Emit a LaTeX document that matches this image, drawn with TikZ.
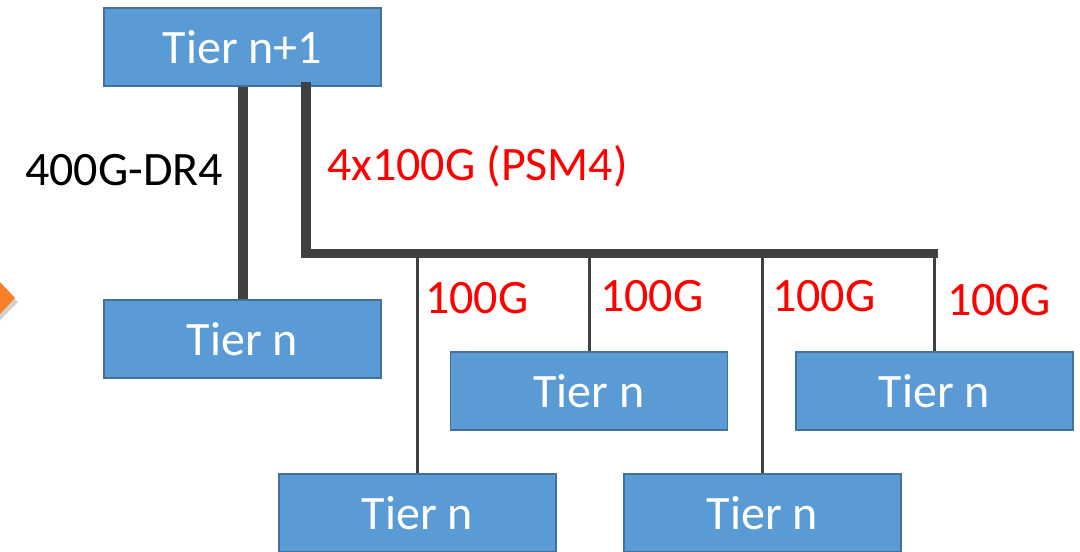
\documentclass[tikz,border=0pt]{standalone}
\usepackage{fontspec}
\setmainfont{Carlito}
\definecolor{boxfill}{HTML}{5B9BD5}
\definecolor{boxline}{HTML}{41719C}
\definecolor{wire}{HTML}{404040}
\definecolor{arrorange}{RGB}{247,128,40}
\begin{document}
\begin{tikzpicture}[x=1pt,y=-1pt,
  tier/.style={draw=boxline,line width=1.5pt,fill=boxfill,text=white,
    minimum width=277pt,minimum height=78pt,inner sep=0pt,
    font=\fontsize{48}{48}\selectfont},
  lbl/.style={anchor=base west,inner sep=0pt,font=\fontsize{48}{48}\selectfont},
  red/.style={text={rgb,255:red,255;green,0;blue,0}},
  trunk/.style={draw=wire,line width=10pt},
  bus/.style={draw=wire,line width=9pt},
  drop/.style={draw=wire,line width=3pt}]
\useasboundingbox (0,0) rectangle (1080,552);
% orange arrow tip at left edge
\fill[black,opacity=0.18] (0,286) -- (18,302) -- (0,320) -- cycle;
\fill[arrorange] (0,282) -- (15,298) -- (0,314) -- cycle;
% boxes
\node[tier] (top) at (242.5,47) {Tier n+1};
\node[tier] (L) at (242.5,339) {Tier n};
\node[tier] (M1) at (589,391) {Tier n};
\node[tier] (R1) at (934.5,391) {Tier n};
\node[tier] (B1) at (417.5,513) {Tier n};
\node[tier] (B2) at (762.5,513) {Tier n};
% bus coordinates
\coordinate (busL) at (306,253);
\coordinate (busR) at (933,253);
% thick trunks
\draw[trunk] (top.south) -- (L.north);
\draw[trunk,line cap=rect] (top.south -| busL) -- (busL);
\draw[bus,line cap=rect] (busL) -- (busR);
% drops
\draw[drop] (B1.north) -- (B1.north |- busL);
\draw[drop] (M1.north) -- (M1.north |- busL);
\draw[drop] (B2.north) -- (B2.north |- busL);
\draw[drop] (R1.north) -- (R1.north |- busL);
% labels
\node[lbl] (l400) at (25,185) {400G-DR4};
\node[lbl,red] (lpsm) at (327,180) {4x100G (PSM4)};
\node[lbl,red] (g1) at (425,313) {100G};
\node[lbl,red] (g2) at (600,311) {100G};
\node[lbl,red] (g3) at (772,311) {100G};
\node[lbl,red] (g4) at (947,315) {100G};
\end{tikzpicture}
\end{document}
